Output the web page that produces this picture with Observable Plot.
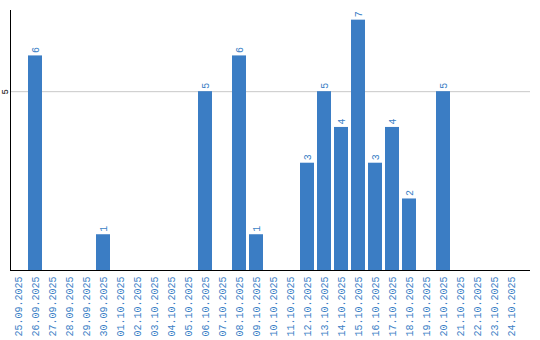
<!DOCTYPE html>
<html>
<head>
<meta charset="utf-8">
<script src="https://cdn.jsdelivr.net/npm/d3@7"></script>
<script src="https://cdn.jsdelivr.net/npm/@observablehq/plot@0.6"></script>
<style>
  html, body { margin: 0; padding: 0; background: #fff; }
  #chart svg { display: block; }
</style>
</head>
<body>
<div id="chart"></div>
<script>
const dates = [
  "25.09.2025","26.09.2025","27.09.2025","28.09.2025","29.09.2025","30.09.2025",
  "01.10.2025","02.10.2025","03.10.2025","04.10.2025","05.10.2025","06.10.2025",
  "07.10.2025","08.10.2025","09.10.2025","10.10.2025","11.10.2025","12.10.2025",
  "13.10.2025","14.10.2025","15.10.2025","16.10.2025","17.10.2025","18.10.2025",
  "19.10.2025","20.10.2025","21.10.2025","22.10.2025","23.10.2025","24.10.2025"
];
const counts = [
  0, 6, 0, 0, 0, 1,
  0, 0, 0, 0, 0, 5,
  0, 6, 1, 0, 0, 3,
  5, 4, 7, 3, 4, 2,
  0, 5, 0, 0, 0, 0
];
const yTicks = [5];

const barColor = "#3b7dc4";
const textColor = "#3c7fc6";
const font = "'Liberation Mono', 'DejaVu Sans Mono', monospace";

const data = dates.map((d, i) => ({date: d, count: counts[i]}));
const nonZero = data.filter(d => d.count > 0);

const chart = Plot.plot({
  width: 540,
  height: 340,
  marginLeft: 10,
  marginRight: 10,
  marginTop: 10,
  marginBottom: 70,
  style: {fontFamily: font, background: "#fff"},
  x: {domain: dates, paddingInner: 0.18, paddingOuter: 0.384, align: 0.077, label: null},
  y: {domain: [0, 7.27], label: null},
  marks: [
    Plot.ruleY(yTicks, {stroke: "#c8c8c8", strokeWidth: 1}),
    Plot.barY(nonZero, {x: "date", y: "count", fill: barColor}),
    Plot.text(nonZero, {x: "date", y: "count", text: d => String(d.count), rotate: -90,
      textAnchor: "start", lineAnchor: "middle", dy: -3, fill: textColor, fontSize: 10, fontFamily: font}),
    Plot.axisY({ticks: yTicks, tickSize: 0, tickPadding: 5, rotate: -90, textAnchor: "middle",
      lineAnchor: "middle", fontSize: 9, fill: "#000", label: null, fontFamily: font}),
    Plot.axisX({tickSize: 0, tickPadding: 6, rotate: -90, textAnchor: "end", lineAnchor: "middle",
      fontSize: 10, fill: textColor, label: null, fontFamily: font}),
    Plot.frame({anchor: "left", stroke: "#000"}),
    Plot.ruleY([0], {stroke: "#000", strokeWidth: 1.2})
  ]
});
document.getElementById("chart").appendChild(chart);
</script>
</body>
</html>
